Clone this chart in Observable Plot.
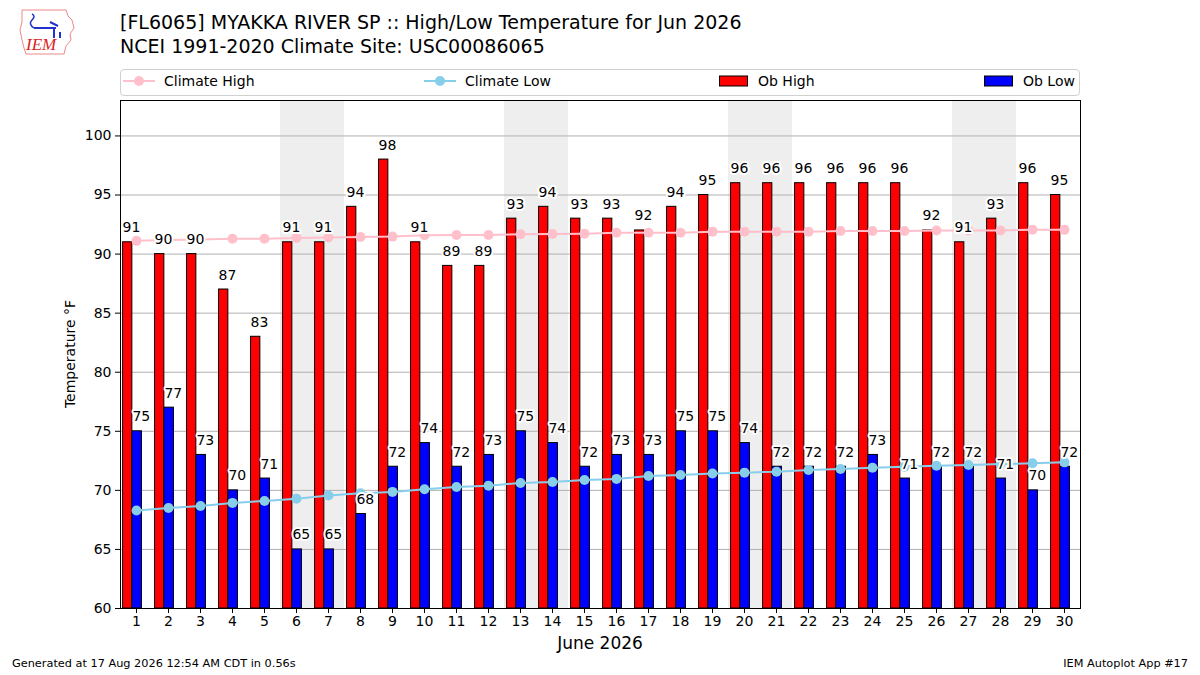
<!DOCTYPE html>
<html>
<head>
<meta charset="utf-8">
<script src="https://cdn.jsdelivr.net/npm/d3@7"></script>
<script src="https://cdn.jsdelivr.net/npm/@observablehq/plot@0.6"></script>
<style>
  html, body { margin: 0; padding: 0; background: #fff; }
  #wrap { position: relative; width: 1200px; height: 675px; font-family: "DejaVu Sans", sans-serif; color: #000; overflow: hidden; }
  #chart { position: absolute; left: 0; top: 0; }
  .abs { position: absolute; white-space: nowrap; }
  .title { left: 120px; font-size: 19px; }
  #legend { position: absolute; left: 120px; top: 69px; width: 958px; height: 25px; border: 1px solid #d0d0d0; border-radius: 4px; background: #fff; font-size: 14px; }
  .li { position: absolute; top: -2px; height: 25px; display: flex; align-items: center; }
  .li span { margin-left: 9px; }
</style>
</head>
<body>
<div id="wrap">
  <div id="chart"></div>
  <svg class="abs" style="left:16px;top:6px" width="64" height="52" viewBox="0 0 64 52">
    <path d="M6 4 L50 4 L52 10 L56 14 L58 22 L54 28 L55 34 L50 40 L48 48 L10 48 L8 42 L6 34 L4 24 L6 16 Z" fill="none" stroke="#e88" stroke-width="1"/>
    <path d="M16 8 q4 2 0 6 q-4 4 2 8" fill="none" stroke="#2233cc" stroke-width="1.5"/>
    <path d="M18 22 L40 22 M34 16 L42 20 M38 22 L38 32 M44 26 L44 32" fill="none" stroke="#2233cc" stroke-width="2"/>
    <text x="10" y="44" font-family="Liberation Serif, serif" font-style="italic" font-size="17" fill="#dd2222">IEM</text>
  </svg>
  <div class="abs title" style="top:11px">[FL6065] MYAKKA RIVER SP :: High/Low Temperature for Jun 2026</div>
  <div class="abs title" style="top:35px">NCEI 1991-2020 Climate Site: USC00086065</div>
  <div id="legend">
    <div class="li" style="left:2px"><svg width="32" height="12"><line x1="0" y1="6" x2="32" y2="6" stroke="#ffc0cb" stroke-width="2"/><circle cx="16" cy="6" r="5" fill="#ffc0cb"/></svg><span>Climate High</span></div>
    <div class="li" style="left:303px"><svg width="32" height="12"><line x1="0" y1="6" x2="32" y2="6" stroke="#87ceeb" stroke-width="2"/><circle cx="16" cy="6" r="5" fill="#87ceeb"/></svg><span>Climate Low</span></div>
    <div class="li" style="left:598px"><svg width="30" height="12"><rect x="0.5" y="1" width="28" height="10" fill="#ff0000" stroke="#000" stroke-width="1"/></svg><span>Ob High</span></div>
    <div class="li" style="left:863px"><svg width="30" height="12"><rect x="0.5" y="1" width="28" height="10" fill="#0000ff" stroke="#000" stroke-width="1"/></svg><span>Ob Low</span></div>
  </div>
  <div class="abs" style="left:0;width:14px;top:354px;">
    <div style="position:absolute;left:70px;top:0;transform:translate(-50%,-50%) rotate(-90deg);font-size:14px;white-space:nowrap">Temperature °F</div>
  </div>
  <div class="abs" style="left:600px;top:633px;transform:translateX(-50%);font-size:17px">June 2026</div>
  <div class="abs" style="left:12px;top:657px;font-size:11.3px">Generated at 17 Aug 2026 12:54 AM CDT in 0.56s</div>
  <div class="abs" style="right:12px;top:657px;font-size:11.3px">IEM Autoplot App #17</div>
</div>
<script>
const days = [1,2,3,4,5,6,7,8,9,10,11,12,13,14,15,16,17,18,19,20,21,22,23,24,25,26,27,28,29,30];
const obHigh = [91,90,90,87,83,91,91,94,98,91,89,89,93,94,93,93,92,94,95,96,96,96,96,96,96,92,91,93,96,95];
const obLow = [75,77,73,70,71,65,65,68,72,74,72,73,75,74,72,73,73,75,75,74,72,72,72,73,71,72,72,71,70,72];
const climHigh = [91.12,91.2,91.23,91.3,91.3,91.37,91.4,91.45,91.48,91.6,91.62,91.62,91.68,91.7,91.73,91.8,91.8,91.8,91.9,91.9,91.9,91.9,91.96,91.96,91.96,92.0,92.0,92.0,92.07,92.05];
const climLow = [68.29,68.5,68.68,68.94,69.1,69.3,69.56,69.75,69.87,70.09,70.29,70.4,70.63,70.71,70.88,70.97,71.22,71.3,71.42,71.5,71.58,71.73,71.81,71.92,72.0,72.09,72.15,72.23,72.29,72.37];
const weekends = [[6,7],[13,14],[20,21],[27,28]];
const yTicks = [60,65,70,75,80,85,90,95,100];

const rows = days.map((d, i) => ({day: d, high: obHigh[i], low: obLow[i], ch: climHigh[i], cl: climLow[i]}));
const wk = weekends.map(([a, b]) => ({start: a, end: b}));

const chart = Plot.plot({
  width: 1200,
  height: 675,
  marginTop: 100,
  marginBottom: 67,
  marginLeft: 120,
  marginRight: 120,
  style: {fontFamily: "DejaVu Sans, sans-serif", fontSize: "14px", background: "transparent", color: "#000"},
  x: {type: "linear", domain: [0.5, 30.5]},
  y: {domain: [60, 103]},
  marks: [
    Plot.rect(wk, {x1: d => d.start - 0.5, x2: d => d.end + 0.5, fill: "#eeeeee"}),
    Plot.gridY(yTicks, {stroke: "#b0b0b0", strokeOpacity: 1, strokeWidth: 1}),
    Plot.rect(rows, {x1: d => d.day - 0.42, x2: d => d.day - 0.13, y1: 60, y2: "high", fill: "#ff0000", stroke: "#000", strokeWidth: 1}),
    Plot.rect(rows, {x1: d => d.day - 0.13, x2: d => d.day + 0.17, y1: 60, y2: "low", fill: "#0000ff", stroke: "#000", strokeWidth: 1}),
    Plot.line(rows, {x: "day", y: "ch", stroke: "#ffc0cb", strokeWidth: 2}),
    Plot.dot(rows, {x: "day", y: "ch", r: 5, fill: "#ffc0cb"}),
    Plot.line(rows, {x: "day", y: "cl", stroke: "#87ceeb", strokeWidth: 2}),
    Plot.dot(rows, {x: "day", y: "cl", r: 5, fill: "#87ceeb"}),
    Plot.text(rows, {x: d => d.day - 0.16, y: "high", text: d => String(d.high), dy: -10, lineAnchor: "bottom", fontSize: 14, fill: "#000", stroke: "white", strokeWidth: 4}),
    Plot.text(rows, {x: d => d.day + 0.15, y: "low", text: d => String(d.low), dy: -10, lineAnchor: "bottom", fontSize: 14, fill: "#000", stroke: "white", strokeWidth: 4}),
    Plot.frame({stroke: "#000", strokeWidth: 1}),
    Plot.axisX({ticks: days, tickFormat: d => String(d), tickSize: 5, tickPadding: 3, fontSize: 14, label: null}),
    Plot.axisY({ticks: yTicks, tickFormat: d => String(d), tickSize: 5, tickPadding: 4, fontSize: 14, label: null})
  ]
});
document.getElementById("chart").appendChild(chart);
</script>
</body>
</html>
